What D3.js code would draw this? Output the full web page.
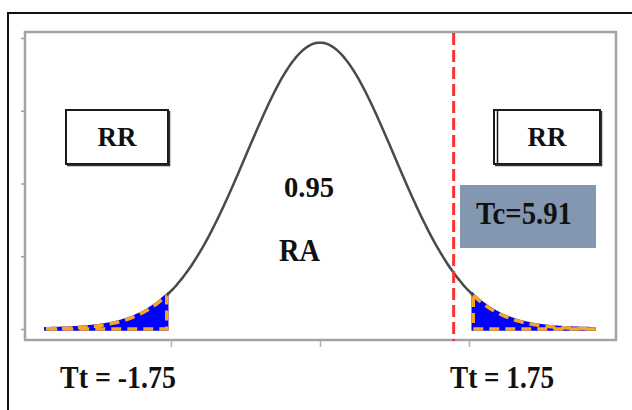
<!DOCTYPE html>
<html>
<head>
<meta charset="utf-8">
<script src="https://cdn.jsdelivr.net/npm/d3@7"></script>
<style>
  body { margin: 0; background: #fff; }
</style>
</head>
<body>
<div id="chart"></div>
<script>
// distribution and axis values
var curveRange = [-3.22, 3.22];
var curveSd = 0.87;
var tailLeft = [-3.22, -1.8];
var tailRight = [1.8, 3.22];
var xTicks = [-1.75, 0, 1.75];
var xTickLabels = ["Tt = -1.75", "", "Tt = 1.75"];
var tcLinePos = 1.57;
var tcLabel = "Tc=5.91";
var centerLabels = ["0.95", "RA"];
var regionLabel = "RR";

var W = 632, H = 410;
var svg = d3.select("#chart").append("svg")
    .attr("width", W).attr("height", H)
    .attr("font-family", "Liberation Serif");

// outer frame (runs off the page on the right and bottom)
svg.append("rect")
    .attr("x", 8).attr("y", 13).attr("width", 640).attr("height", 420)
    .attr("fill", "none").attr("stroke", "#111").attr("stroke-width", 2);

var frame = { left: 25, top: 32, right: 616, bottom: 340 };

var x = d3.scaleLinear()
    .domain([-3.465, 3.477])
    .range([frame.left, frame.right]);

var yMax = 0.4659;
var y = d3.scaleLinear()
    .domain([0, yMax])
    .range([329, 38]);

function pdf(t) {
    return Math.exp(-0.5 * (t / curveSd) * (t / curveSd)) / (curveSd * Math.sqrt(2 * Math.PI));
}
function sample(r) {
    var n = 120, pts = [];
    for (var i = 0; i <= n; i++) {
        var t = r[0] + (r[1] - r[0]) * i / n;
        pts.push([t, pdf(t)]);
    }
    return pts;
}

function addLabel(xp, yp, txt, size, len, anchor) {
    var t = svg.append("text")
        .attr("x", xp).attr("y", yp)
        .attr("font-family", "Liberation Serif")
        .attr("font-weight", "bold")
        .attr("font-size", size)
        .attr("fill", "#111")
        .attr("text-anchor", anchor || "start")
        .text(txt);
    if (len) t.attr("textLength", len).attr("lengthAdjust", "spacingAndGlyphs");
    return t;
}

// plot frame
svg.append("rect")
    .attr("x", frame.left).attr("y", frame.top)
    .attr("width", frame.right - frame.left).attr("height", frame.bottom - frame.top)
    .attr("fill", "none").attr("stroke", "#a3a3a3").attr("stroke-width", 2.5);

// y ticks (no labels)
var yAxis = d3.axisLeft(y)
    .tickValues(d3.range(5).map(function (i) { return i * yMax / 4; }))
    .tickSize(4).tickFormat("");
svg.append("g").attr("transform", "translate(" + frame.left + ",0)")
    .call(yAxis)
    .call(function (g) { g.select(".domain").remove(); })
    .selectAll("line").attr("stroke", "#a3a3a3").attr("stroke-width", 1.5);

// x ticks
var xAxis = d3.axisBottom(x).tickValues(xTicks).tickSize(7).tickFormat("");
svg.append("g").attr("transform", "translate(0," + frame.bottom + ")")
    .call(xAxis)
    .call(function (g) { g.select(".domain").remove(); })
    .selectAll("line").attr("stroke", "#b0b0b0").attr("stroke-width", 1.5);

// shaded tails
var area = d3.area()
    .x(function (d) { return x(d[0]); })
    .y0(y(0))
    .y1(function (d) { return y(d[1]); });

[tailLeft, tailRight].forEach(function (r) {
    var p = area(sample(r)) + "Z";
    svg.append("path").attr("d", p)
        .attr("fill", "#0000ff").attr("stroke", "#0000ff").attr("stroke-width", 3.5);
    svg.append("path").attr("d", p)
        .attr("fill", "none").attr("stroke", "#f5a623").attr("stroke-width", 3.5)
        .attr("stroke-dasharray", "10,6");
});

// curve between the tails
var line = d3.line()
    .x(function (d) { return x(d[0]); })
    .y(function (d) { return y(d[1]); })
    .curve(d3.curveBasis);
svg.append("path")
    .attr("d", line(sample([tailLeft[1], tailRight[0]])))
    .attr("fill", "none").attr("stroke", "#4a4a4a").attr("stroke-width", 2.5);

// red dashed Tc line
svg.append("line")
    .attr("x1", x(tcLinePos)).attr("x2", x(tcLinePos))
    .attr("y1", frame.top + 1).attr("y2", frame.bottom + 1)
    .attr("stroke", "#ff3030").attr("stroke-width", 3)
    .attr("stroke-dasharray", "12,5");

// RR boxes
function rrBox(x0, x1, doubleLeft) {
    svg.append("rect")
        .attr("x", x0).attr("y", 110).attr("width", x1 - x0).attr("height", 54)
        .attr("fill", "#fff").attr("stroke", "#1a1a1a").attr("stroke-width", 2);
    svg.append("path")
        .attr("d", "M" + (x1 + 1.5) + ",111 V" + 165.5 + " H" + (x0 + 1))
        .attr("fill", "none").attr("stroke", "#333").attr("stroke-width", 1.5);
    if (doubleLeft) {
        svg.append("line")
            .attr("x1", x0 + 3.5).attr("x2", x0 + 3.5).attr("y1", 111).attr("y2", 163)
            .attr("stroke", "#1a1a1a").attr("stroke-width", 1.5);
    }
    addLabel((x0 + x1) / 2, 146, regionLabel, 27, null, "middle");
}
rrBox(66, 168, false);
rrBox(494, 600, true);

// Tc box
svg.append("rect")
    .attr("x", 460).attr("y", 185).attr("width", 136).attr("height", 63)
    .attr("fill", "#8497b0");
addLabel(476, 224, tcLabel, 31, 96);

// centre labels
addLabel(284, 197, centerLabels[0], 29, 50);
addLabel(279, 261, centerLabels[1], 32, 41);

// tick labels below
var labelPos = [[60, 116], null, [450, 104]];
xTickLabels.forEach(function (lab, i) {
    if (!lab) return;
    addLabel(labelPos[i][0], 388, lab, 31, labelPos[i][1]);
});
</script>
</body>
</html>
